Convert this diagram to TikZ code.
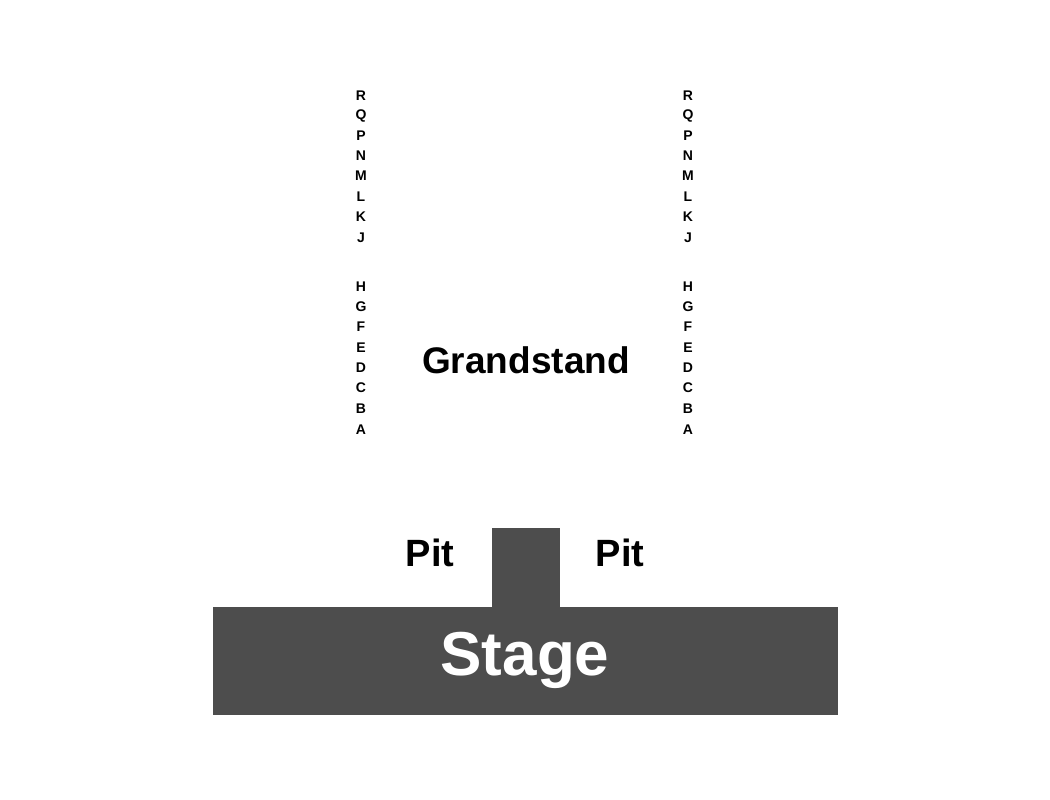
\documentclass[tikz,border=0pt]{standalone}
\usepackage{fontspec}
\setmainfont{Liberation Sans}
\definecolor{stagegray}{HTML}{4D4D4D}
\begin{document}
\begin{tikzpicture}[x=1pt,y=-1pt,
  rowlbl/.style={font=\fontsize{14}{14}\selectfont\bfseries,inner sep=0pt,anchor=center},
  big/.style={font=\fontsize{#1}{#1}\selectfont\bfseries,inner sep=0pt,anchor=center}]
\useasboundingbox[fill=white] (0,0) rectangle (1050,800);
\fill[stagegray] (213,607) rectangle (838,715);
\fill[stagegray] (492,528) rectangle (560,608);
\node[big=62,text=white] (stage) at (525,660) {Stage};
\node[big=38] (pitl) at (430,553) {Pit};
\node[big=38] (pitr) at (620,553) {Pit};
\node[big=37] (gs) at (526,360) {Grandstand};
\foreach \l/\y in {R/96,Q/116,P/136,N/156,M/176,L/197,K/217,J/238,H/287,G/307,F/327,E/348,D/368,C/388,B/409,A/430}{
  \node[rowlbl] (l\l) at (361,\y) {\l};
  \node[rowlbl] (r\l) at (688,\y) {\l};
}
\end{tikzpicture}
\end{document}
